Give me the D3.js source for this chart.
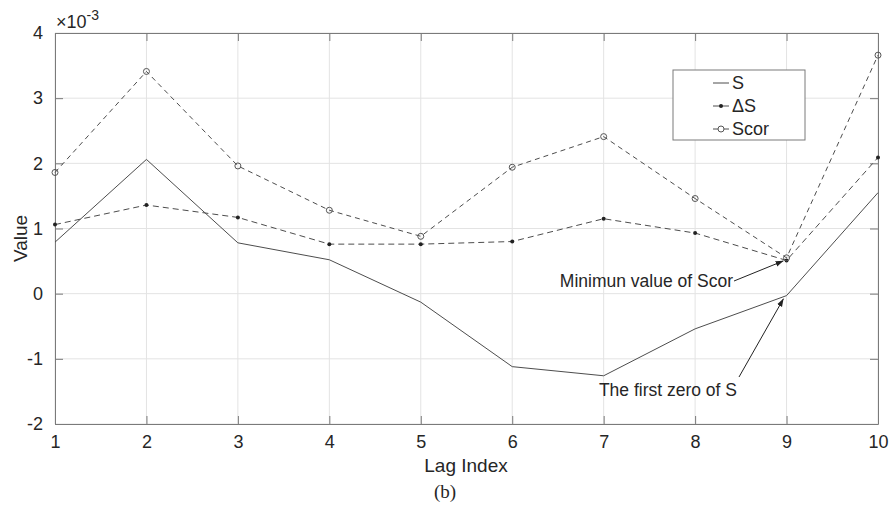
<!DOCTYPE html>
<html>
<head>
<meta charset="utf-8">
<script src="https://cdn.jsdelivr.net/npm/d3@7"></script>
<style>
  body { margin: 0; background: #fff; }
  text { font-family: "Liberation Sans", Arial, sans-serif; fill: #262626; }
</style>
</head>
<body>
<div id="chart"></div>
<script>
// Data (values in units of 1e-3)
const lags = [1, 2, 3, 4, 5, 6, 7, 8, 9, 10];
const sValues = [0.79, 2.06, 0.78, 0.52, -0.13, -1.12, -1.26, -0.54, -0.03, 1.55];
const dsValues = [1.06, 1.36, 1.17, 0.76, 0.76, 0.80, 1.15, 0.93, 0.51, 2.09];
const scorValues = [1.86, 3.41, 1.96, 1.28, 0.88, 1.94, 2.41, 1.46, 0.55, 3.66];
const yTicks = [-2, -1, 0, 1, 2, 3, 4];
const xTicks = lags;

const W = 890, H = 515;
const margin = { top: 33, right: 12, bottom: 91, left: 55 };
const width = W - margin.left - margin.right;
const height = H - margin.top - margin.bottom;

const svg = d3.select("#chart").append("svg")
    .attr("width", W)
    .attr("height", H);

const g = svg.append("g")
    .attr("transform", `translate(${margin.left},${margin.top})`);

const x = d3.scaleLinear().domain([1, 10]).range([0, width]);
const y = d3.scaleLinear().domain([-2, 4]).range([height, 0]);

// Gridlines
g.append("g")
    .selectAll("line")
    .data(xTicks)
    .enter().append("line")
    .attr("x1", d => x(d)).attr("x2", d => x(d))
    .attr("y1", 0).attr("y2", height)
    .attr("stroke", "#e3e3e3");
g.append("g")
    .selectAll("line")
    .data(yTicks)
    .enter().append("line")
    .attr("y1", d => y(d)).attr("y2", d => y(d))
    .attr("x1", 0).attr("x2", width)
    .attr("stroke", "#e3e3e3");

// Axes (MATLAB-style inward ticks on all four sides)
const axisColor = "#7a7a7a";
const fmt = d => String(d);  // plain hyphen minus like the original
function styleAxis(sel) {
    sel.select(".domain").attr("stroke", axisColor);
    sel.selectAll(".tick line").attr("stroke", axisColor);
    sel.selectAll(".tick text")
        .style("font-size", "18px")
        .style("font-family", "'Liberation Sans', Arial, sans-serif")
        .attr("fill", "#262626");
}
g.append("g")
    .attr("transform", `translate(0,${height})`)
    .call(d3.axisBottom(x).tickValues(xTicks).tickFormat(fmt).tickSize(-8).tickSizeOuter(0).tickPadding(11))
    .call(styleAxis);
g.append("g")
    .call(d3.axisTop(x).tickValues(xTicks).tickSize(-8).tickSizeOuter(0).tickFormat(""))
    .call(styleAxis);
g.append("g")
    .call(d3.axisLeft(y).tickValues(yTicks).tickFormat(fmt).tickSize(-8).tickSizeOuter(0).tickPadding(12))
    .call(styleAxis);
g.append("g")
    .attr("transform", `translate(${width},0)`)
    .call(d3.axisRight(y).tickValues(yTicks).tickSize(-8).tickSizeOuter(0).tickFormat(""))
    .call(styleAxis);

// Exponent label
const expo = svg.append("text")
    .attr("x", margin.left + 1)
    .attr("y", 28)
    .style("font-size", "18px");
expo.append("tspan").text("\u00d710");
expo.append("tspan").attr("dy", -8).style("font-size", "14px").text("-3");

// Axis labels
svg.append("text")
    .attr("transform", `translate(20,${margin.top + height / 2 + 10}) rotate(-90)`)
    .attr("text-anchor", "middle")
    .attr("dy", "0.35em")
    .style("font-size", "19px")
    .text("Value");
svg.append("text")
    .attr("x", 466)
    .attr("y", 472)
    .attr("text-anchor", "middle")
    .style("font-size", "19px")
    .text("Lag Index");
svg.append("text")
    .attr("x", 445)
    .attr("y", 498)
    .attr("text-anchor", "middle")
    .style("font-family", "'Liberation Serif', 'Times New Roman', serif")
    .style("font-size", "19px")
    .text("(b)");

// Series
const lineColor = "#4d4d4d";
const lineGen = d3.line().x(d => x(d[0])).y(d => y(d[1]));
const series = [
    { name: "S", values: sValues, dash: null, marker: null },
    { name: "\u0394S", values: dsValues, dash: "6,4", marker: "dot" },
    { name: "Scor", values: scorValues, dash: "5,4", marker: "circle" }
];

series.forEach(s => {
    const pts = lags.map((l, i) => [l, s.values[i]]);
    g.append("path")
        .datum(pts)
        .attr("fill", "none")
        .attr("stroke", lineColor)
        .attr("stroke-width", 1)
        .attr("stroke-dasharray", s.dash)
        .attr("d", lineGen);
    if (s.marker === "dot") {
        g.selectAll(null).data(pts).enter().append("circle")
            .attr("cx", d => x(d[0])).attr("cy", d => y(d[1]))
            .attr("r", 2).attr("fill", "#222");
    } else if (s.marker === "circle") {
        g.selectAll(null).data(pts).enter().append("circle")
            .attr("cx", d => x(d[0])).attr("cy", d => y(d[1]))
            .attr("r", 3).attr("fill", "none")
            .attr("stroke", "#555").attr("stroke-width", 1);
    }
});

// Legend
const legend = svg.append("g").attr("transform", "translate(673,70)");
legend.append("rect")
    .attr("width", 132).attr("height", 70)
    .attr("fill", "#fff").attr("stroke", axisColor);
series.forEach((s, i) => {
    const ly = 13 + i * 23;
    legend.append("line")
        .attr("x1", 40).attr("x2", 56)
        .attr("y1", ly).attr("y2", ly)
        .attr("stroke", lineColor);
    if (s.marker === "dot") {
        legend.append("circle").attr("cx", 48).attr("cy", ly).attr("r", 2).attr("fill", "#222");
    } else if (s.marker === "circle") {
        legend.append("circle").attr("cx", 48).attr("cy", ly).attr("r", 3)
            .attr("fill", "#fff").attr("stroke", "#555");
    }
    legend.append("text")
        .attr("x", 59).attr("y", ly)
        .attr("dy", "0.35em")
        .style("font-size", "18px")
        .text(s.name);
});

// Annotations
svg.append("defs").append("marker")
    .attr("id", "arrow")
    .attr("viewBox", "0 0 10 10")
    .attr("refX", 10).attr("refY", 5)
    .attr("markerWidth", 8).attr("markerHeight", 8)
    .attr("orient", "auto")
    .append("path")
    .attr("d", "M0,1.5 L10,5 L0,8.5 Z")
    .attr("fill", "#222");

const annotations = [
    { text: "Minimun value of Scor", lag: 9, value: scorValues[8], tx: 733, ty: 281, ax: 734, ay: 281 },
    { text: "The first zero of S", lag: 9, value: sValues[8], tx: 737, ty: 390, ax: 739, ay: 377 }
];
annotations.forEach(a => {
    svg.append("line")
        .attr("x1", a.ax).attr("y1", a.ay)
        .attr("x2", margin.left + x(a.lag) - 3)
        .attr("y2", margin.top + y(a.value) + 3)
        .attr("stroke", "#222")
        .attr("stroke-width", 1)
        .attr("marker-end", "url(#arrow)");
    svg.append("text")
        .attr("x", a.tx).attr("y", a.ty)
        .attr("dy", "0.35em")
        .attr("text-anchor", "end")
        .style("font-size", "17.5px")
        .text(a.text);
});
</script>
</body>
</html>
